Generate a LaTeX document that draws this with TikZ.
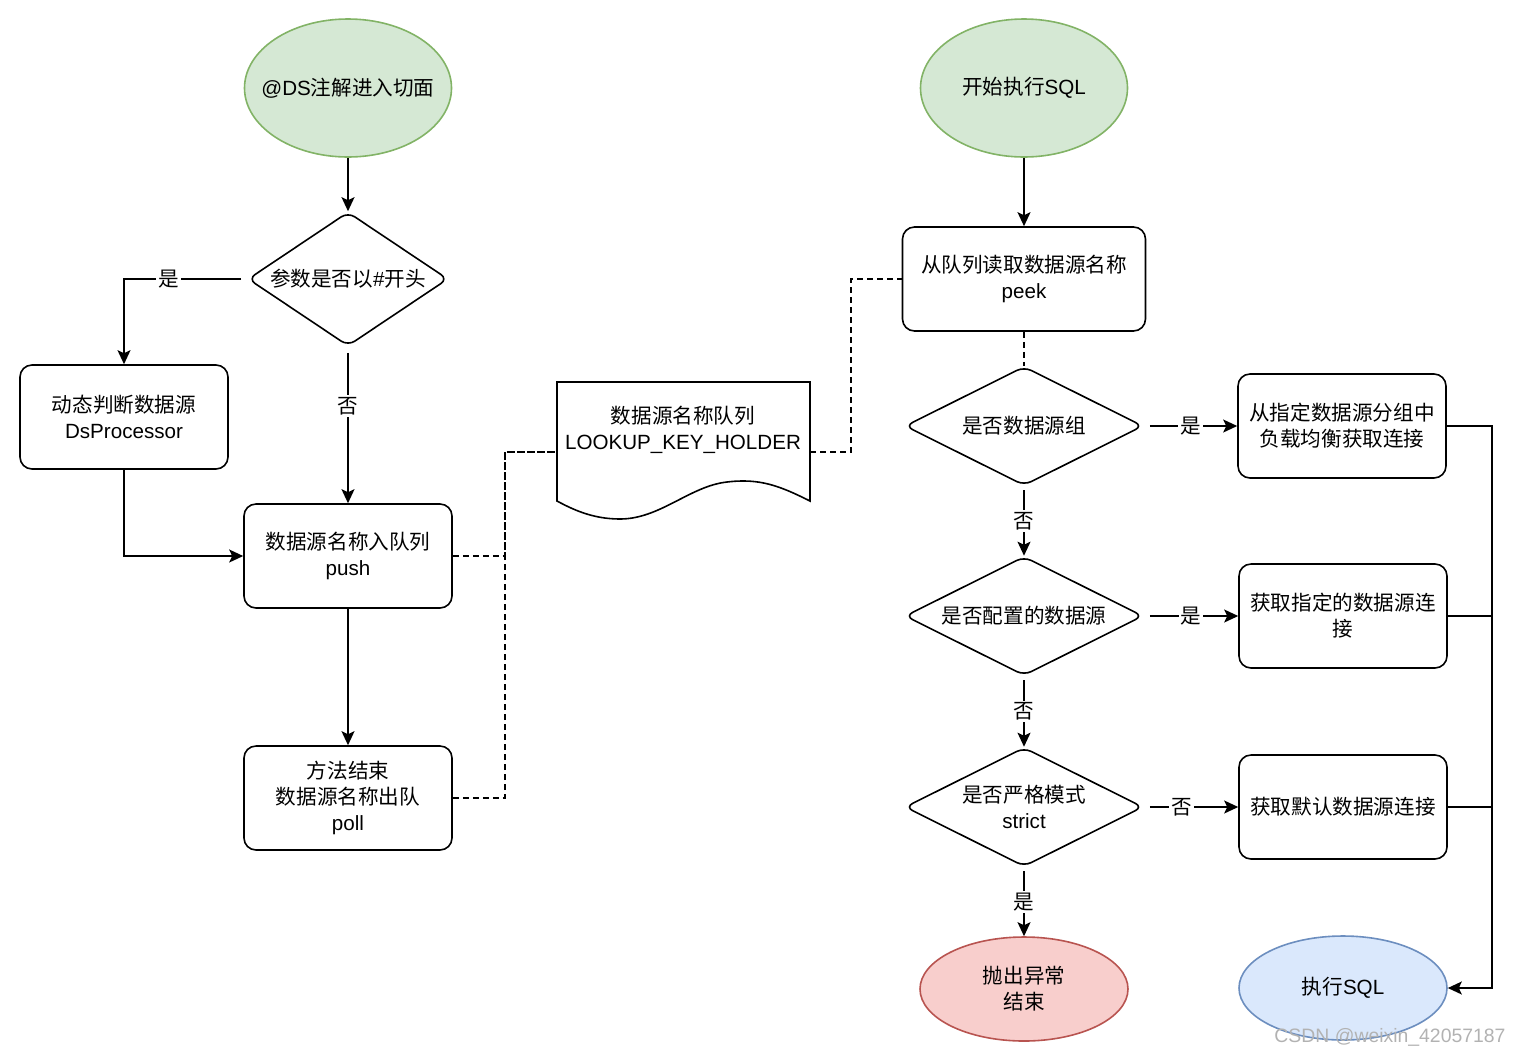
\documentclass[tikz,border=0pt]{standalone}
\usepackage{fontspec}
\setmainfont{Liberation Sans}
\newfontfamily\cjk{Noto Sans CJK SC}
\usetikzlibrary{shapes.geometric,arrows.meta}
\definecolor{greenfill}{HTML}{D5E8D4}
\definecolor{greenline}{HTML}{82B366}
\definecolor{redfill}{HTML}{F8CECC}
\definecolor{redline}{HTML}{B85450}
\definecolor{bluefill}{HTML}{DAE8FC}
\definecolor{blueline}{HTML}{6C8EBF}
\begin{document}
\begin{tikzpicture}[x=0.5pt,y=-0.5pt,font=\fontsize{10.3}{13}\selectfont,line width=0.8pt,
  >={Stealth[length=7pt,width=6.5pt,inset=1.5pt]},
  txt/.style={label={[align=center]center:#1}},
  terminal/.style={ellipse,draw,inner sep=0pt,minimum width=104pt,minimum height=52pt},
  proc/.style={rectangle,draw,rounded corners=6pt,align=center,minimum width=104pt,minimum height=52pt},
  decision/.style={diamond,draw,rounded corners=4pt,inner sep=0pt,minimum width=119pt,minimum height=59.5pt},
  yesno/.style={fill=white,inner sep=1pt,font=\fontsize{10.3}{13}\selectfont\cjk}]
\useasboundingbox (0,0) rectangle (1520,1056);

% left column
\node[terminal,fill=greenfill,draw=greenline,minimum width=103.5pt,minimum height=69pt,
  txt={@DS{\cjk 注解进入切面}}] (aop) at (348,88) {};
\node[decision,minimum width=100pt,minimum height=67pt,
  txt={{\cjk 参数是否以}\#{\cjk 开头}}] (hash) at (348,279) {};
\node[proc] (dyn) at (124,417) {{\cjk 动态判断数据源}\\DsProcessor};
\node[proc] (push) at (348,556) {{\cjk 数据源名称入队列}\\push};
\node[proc] (poll) at (348,798) {{\cjk 方法结束}\\{\cjk 数据源名称出队}\\poll};

% queue document
\draw (557,382) -- (810,382) -- (810,501)
  .. controls (780,486) and (760,478) .. (727,482)
  .. controls (690,486) and (660,519) .. (620,519)
  .. controls (592,519) and (572,509) .. (557,501) -- cycle;
\node[align=center] (queue) at (683,430) {{\cjk 数据源名称队列}\\LOOKUP\_KEY\_HOLDER};
\coordinate (qin) at (557,452);
\coordinate (qout) at (810,452);

% right column
\node[terminal,fill=greenfill,draw=greenline,minimum width=103.5pt,minimum height=69pt,
  txt={{\cjk 开始执行}SQL}] (run) at (1024,88) {};
\node[proc,minimum width=121.5pt] (peek) at (1024,279) {{\cjk 从队列读取数据源名称}\\peek};
\node[decision,txt={\cjk 是否数据源组}] (isgrp) at (1024,426) {};
\node[decision,txt={\cjk 是否配置的数据源}] (iscfg) at (1024,616) {};
\node[decision,txt={{\cjk 是否严格模式}\\strict}] (strict) at (1024,807) {};
\node[proc] (grp) at (1342,426) {{\cjk 从指定数据源分组中}\\{\cjk 负载均衡获取连接}};
\node[proc] (cfg) at (1343,616) {{\cjk 获取指定的数据源连}\\{\cjk 接}};
\node[proc] (dflt) at (1343,807) {\cjk 获取默认数据源连接};
\node[terminal,fill=redfill,draw=redline,txt={{\cjk 抛出异常}\\{\cjk 结束}}] (err) at (1024,989) {};
\node[terminal,fill=bluefill,draw=blueline,txt={{\cjk 执行}SQL}] (sql) at (1343,988) {};
\coordinate (rail) at (1492,988);

% connectors
\draw[->] (aop) -- (hash);
\draw[->,shorten <=3pt] (hash.west) -| node[yesno,pos=0.32] {是} (dyn.north);
\draw[->,shorten <=3pt] (hash.south) -- node[yesno,pos=0.38] {否} (push.north);
\draw[->] (dyn.south) |- (push.west);
\draw[->] (push) -- (poll);
\draw[dash pattern=on 3pt off 2pt] (push.east) -- ++(52,0) |- (qin);
\draw[dash pattern=on 3pt off 2pt] (poll.east) -- ++(52,0) |- (qin);
\draw[dash pattern=on 3pt off 2pt] (qout) -- ++(41,0) |- (peek.west);
\draw[->] (run) -- (peek);
\draw[dash pattern=on 3pt off 2pt] (peek) -- (isgrp);
\draw[->,shorten <=3pt] (isgrp.east) -- node[yesno] {是} (grp.west);
\draw[->,shorten <=2pt] (isgrp.south) -- node[yesno] {否} (iscfg.north);
\draw[->,shorten <=3pt] (iscfg.east) -- node[yesno] {是} (cfg.west);
\draw[->,shorten <=2pt] (iscfg.south) -- node[yesno] {否} (strict.north);
\draw[->,shorten <=3pt] (strict.east) -- node[yesno,pos=0.4] {否} (dflt.west);
\draw[->,shorten <=2pt] (strict.south) -- node[yesno] {是} (err.north);
\draw[->] (grp.east) -| (rail) -- (sql.east);
\draw (cfg.east) -| (rail);
\draw (dflt.east) -| (rail);

\node[text=black!30,font=\fontsize{9.7}{11}\selectfont] (mark) at (1390,1037) {CSDN @weixin\_42057187};
\end{tikzpicture}
\end{document}
